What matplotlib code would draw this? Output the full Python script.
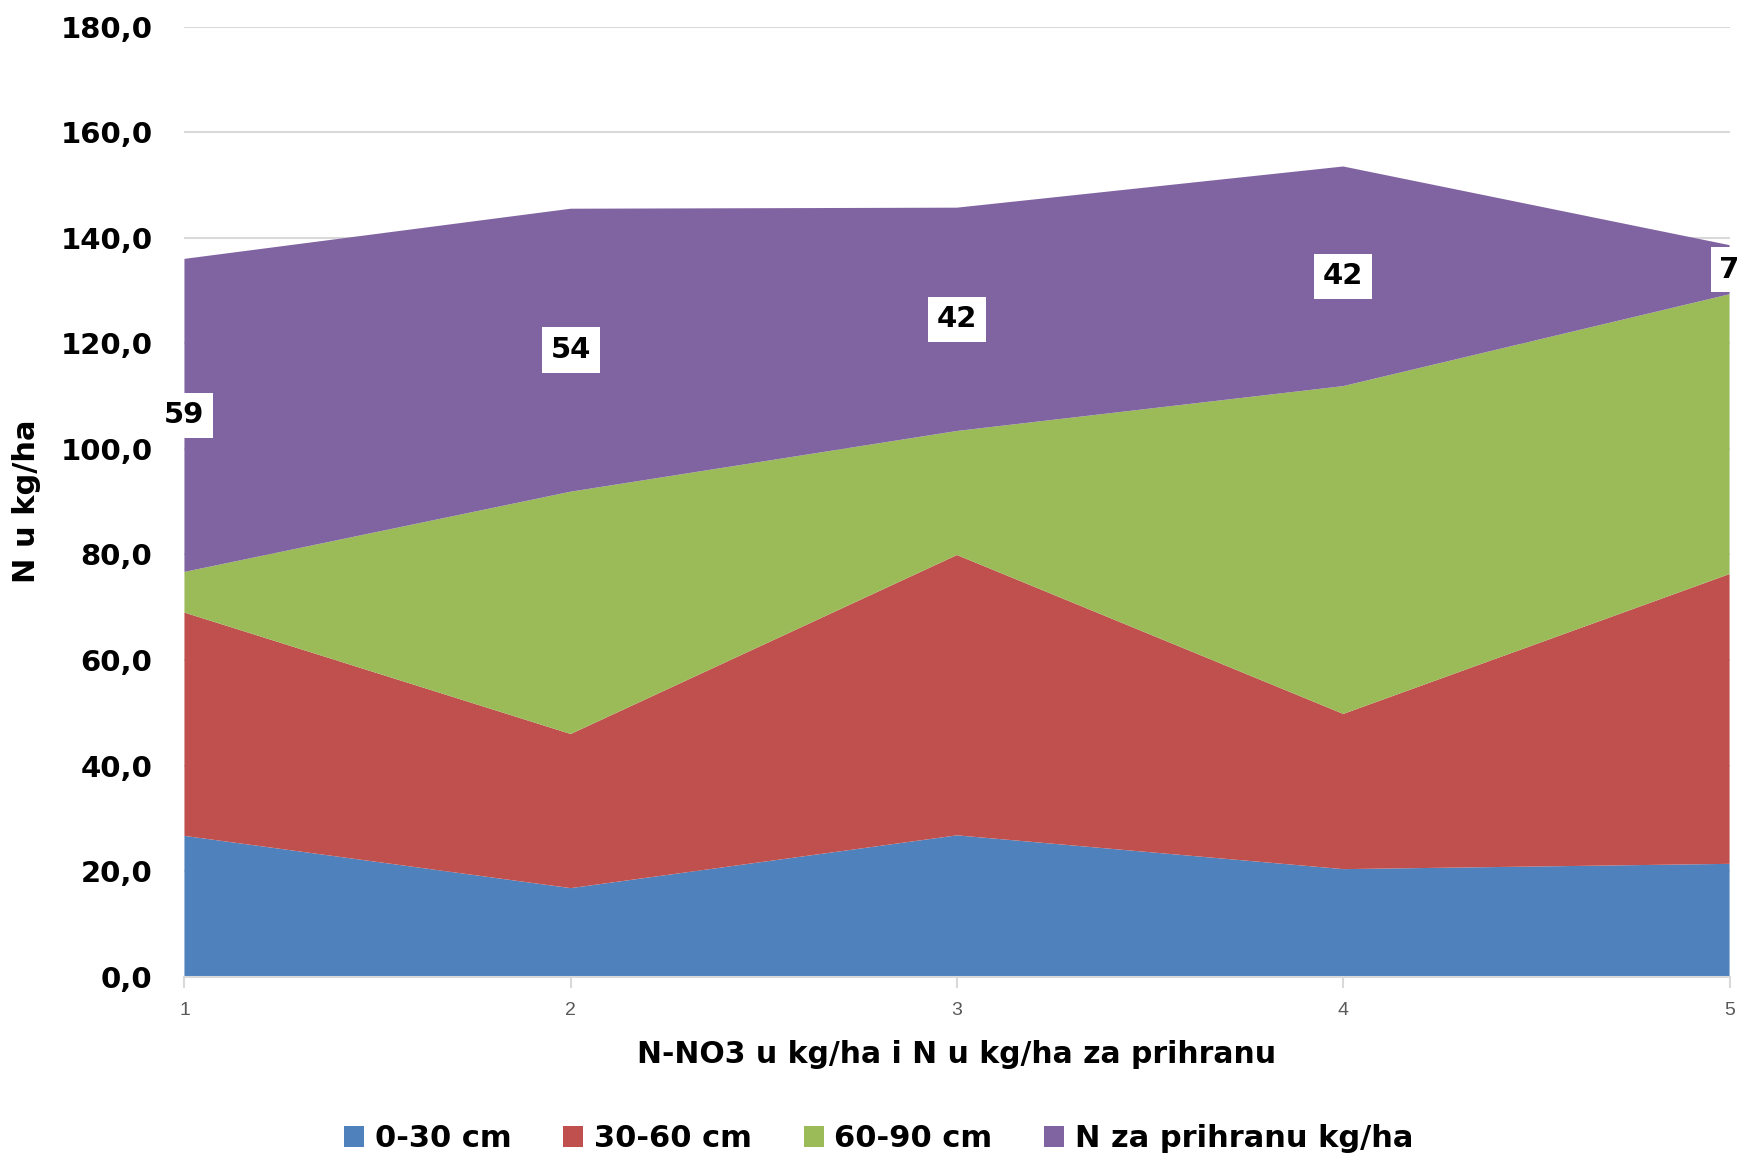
import matplotlib
matplotlib.use("Agg")
import matplotlib.pyplot as plt
import numpy as np

plt.rcParams['font.family'] = ['DejaVu Sans']

x = [1, 2, 3, 4, 5]
series_names = ["0-30 cm", "30-60 cm", "60-90 cm", "N za prihranu kg/ha"]
s_0_30 = [26.7, 16.8, 26.8, 20.4, 21.4]
s_30_60 = [42.3, 29.2, 53.1, 29.4, 54.9]
s_60_90 = [7.7, 45.9, 23.5, 62.1, 53.0]
s_prihrana = [59.3, 53.6, 42.3, 41.6, 9.3]
prihrana_labels = ["59", "54", "42", "42", "7"]
y_ticks = [0, 20, 40, 60, 80, 100, 120, 140, 160, 180]
colors = ["#4F81BD", "#C0504D", "#9BBB59", "#8064A2"]

fig = plt.figure(figsize=(17.4, 11.56), dpi=100)
ax = fig.add_axes([0.106, 0.155, 0.888, 0.822])

ys = [s_0_30, s_30_60, s_60_90, s_prihrana]
ax.stackplot(x, *ys, colors=colors, labels=series_names, zorder=2)

ax.set_xlim(1, 5)
ax.set_ylim(0, 180)
ax.set_yticks(y_ticks)
ax.set_yticklabels([f"{v:.1f}".replace('.', ',') for v in y_ticks],
                   fontsize=21, fontweight='bold')
ax.set_xticks(x)
ax.set_xticklabels([str(v) for v in x], fontsize=14, color='#595959',
                   family='Liberation Sans')
ax.tick_params(axis='y', length=0, pad=23)
ax.tick_params(axis='x', length=8, color='#D9D9D9', width=1.5, pad=10)
ax.grid(axis='y', color='#D9D9D9', linewidth=1.5, zorder=0)
ax.set_axisbelow(True)
for s in ['top', 'right', 'left']:
    ax.spines[s].set_visible(False)
ax.spines['bottom'].set_color('#D9D9D9')
ax.spines['bottom'].set_linewidth(1.5)

# data labels for the top series, centred in its band
base = np.array(s_0_30) + np.array(s_30_60) + np.array(s_60_90)
mid = base + np.array(s_prihrana) / 2
for xi, yi, lab in zip(x, mid, prihrana_labels):
    ax.text(xi, yi, lab, ha='center', va='center', fontsize=21, fontweight='bold',
            zorder=5, clip_on=False,
            bbox=dict(boxstyle='square,pad=0.3', facecolor='white', edgecolor='none'))

ax.set_xlabel("N-NO3 u kg/ha i N u kg/ha za prihranu", fontsize=21.5,
              fontweight='bold', labelpad=15)
ax.set_ylabel("N u kg/ha", fontsize=22, fontweight='bold')
ax.yaxis.set_label_coords(-0.093, 0.5)

handles, labels = ax.get_legend_handles_labels()
fig.legend(handles, labels, loc='center', bbox_to_anchor=(0.505, 0.015), ncol=4,
           frameon=False, prop={'size': 22, 'weight': 'bold'},
           handlelength=0.65, handleheight=0.65, handletextpad=0.35, columnspacing=1.7)

fig.savefig("out.png", dpi=100)
